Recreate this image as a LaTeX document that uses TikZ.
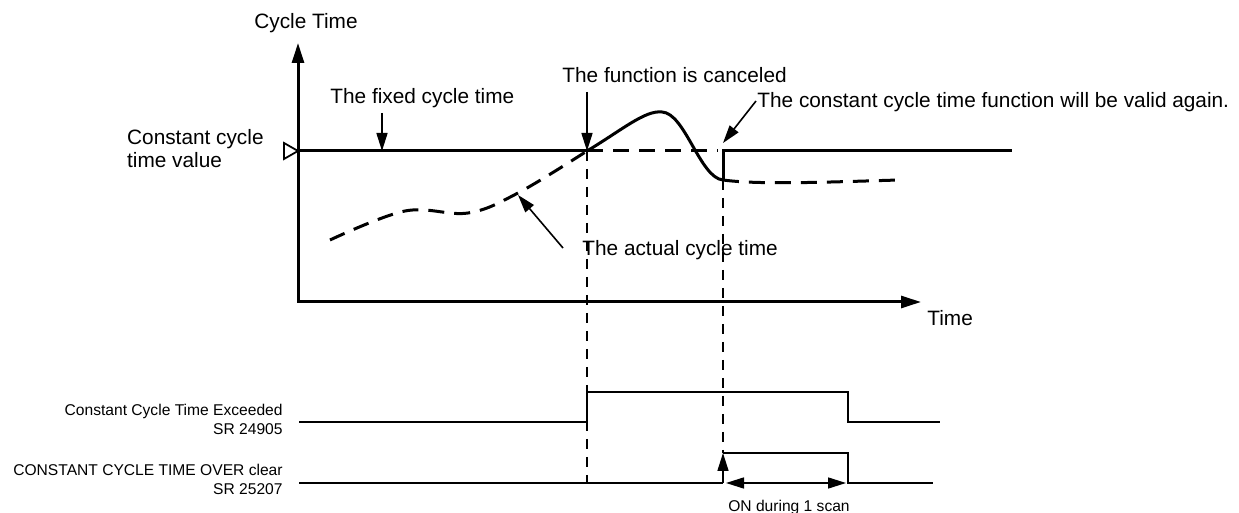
\documentclass[tikz,border=0pt]{standalone}
\usepackage{fontspec}
\setmainfont{Liberation Sans}
\usetikzlibrary{arrows.meta}
\begin{document}
\begin{tikzpicture}[x=0.5pt,y=-0.5pt,
  axisline/.style={line width=1.5pt,line join=miter},
  curve/.style={line width=1.5pt},
  dcurve/.style={line width=1.5pt,dash pattern=on 8pt off 5pt},
  vdash/.style={line width=1pt,dash pattern=on 5pt off 4pt},
  ptr/.style={line width=0.8pt,-{Triangle[length=9pt,width=5.5pt]}},
  dptr/.style={line width=0.8pt,{Triangle[length=9pt,width=5.5pt]}-{Triangle[length=9pt,width=5.5pt]}},
  sig/.style={line width=1pt},
  big/.style={font=\fontsize{10.4pt}{11.5pt}\selectfont,inner sep=0pt},
  small/.style={font=\fontsize{7.8pt}{9.5pt}\selectfont,inner sep=0pt,align=right},
]
\useasboundingbox (0,0) rectangle (1239,513);

% coordinates
\coordinate (ytop) at (298,43);
\coordinate (O) at (298,302);
\coordinate (xend) at (921,302);
\coordinate (cv) at (298,151);
\coordinate (c1) at (587,151);
\coordinate (c2) at (723,151);
\coordinate (low) at (723,180);
\coordinate (rend) at (1012,151);

% axes
\draw[axisline,{Triangle[length=10pt,width=6pt]}-{Triangle[length=10pt,width=6pt]}] (ytop) -- (O) -- (xend);
\node[big] (ylab) at (306,23) {Cycle Time};
\node[big,anchor=west] (xlab) at (927,318) {Time};

% constant value marker and label
\draw[line width=0.9pt,fill=white] (284,143) -- (cv) -- (284,159) -- cycle;
\node[big,align=left,anchor=east] (cval) at (264,148.5) {Constant cycle\\time value};

% fixed cycle time line and curves
\draw[curve] (cv) -- (c1);
\draw[curve] (c1) .. controls (622,130) and (645,110) .. (662,112)
                  .. controls (685,113) and (700,178) .. (low);
\draw[dcurve] (c1) -- (718,151);
\draw[curve] (low) -- (c2) -- (rend);
\draw[dcurve] (low) .. controls (760,185) and (830,182) .. (899,180);
\draw[dcurve] plot[smooth,tension=0.6] coordinates {(330,240) (405,211) (468,213) (518,193) (c1)};

% vertical dashed guides
\draw[vdash] (c1) -- (587,483);
\draw[vdash] (low) -- (723,453);

% annotations
\node[big,anchor=west] (fixed) at (330,98) {The fixed cycle time};
\coordinate (fixtail) at (382,113);
\coordinate (fixtip) at (382,151);
\draw[ptr] (fixtail) -- (fixtip);

\node[big,anchor=west] (cancel) at (562,75) {The function is canceled};
\coordinate (cantail) at (587,92);
\draw[ptr] (cantail) -- (c1);

\node[big,anchor=west] (valid) at (757,102) {The constant cycle time function will be valid again.};
\coordinate (valtail) at (756,101);
\coordinate (valtip) at (723,143);
\draw[ptr] (valtail) -- (valtip);

\node[big,anchor=west] (actual) at (582,250) {The actual cycle time};
\coordinate (acttail) at (563,248);
\coordinate (acttip) at (518,195);
\draw[ptr] (acttail) -- (acttip);

% timing rows
\node[small,anchor=east] (r1lab) at (283,419.5) {Constant Cycle Time Exceeded\\SR 24905};
\node[small,anchor=east] (r2lab) at (283,479.5) {CONSTANT CYCLE TIME OVER clear\\SR 25207};

\draw[sig] (299,422) -- (587,422) -- (587,392) -- (848,392) -- (848,422) -- (940,422);
\draw[sig] (299,483) -- (723,483);
\draw[sig] (723,453) -- (848,453) -- (848,483) -- (933,483);
\coordinate (r2up) at (723,483);
\coordinate (r2hi) at (723,453);
\draw[ptr] (r2up) -- (r2hi);
\coordinate (da) at (726,483);
\coordinate (db) at (846,483);
\draw[dptr] (da) -- (db);
\node[small,anchor=base] (scan) at (789,512) {ON during 1 scan};
\end{tikzpicture}
\end{document}
